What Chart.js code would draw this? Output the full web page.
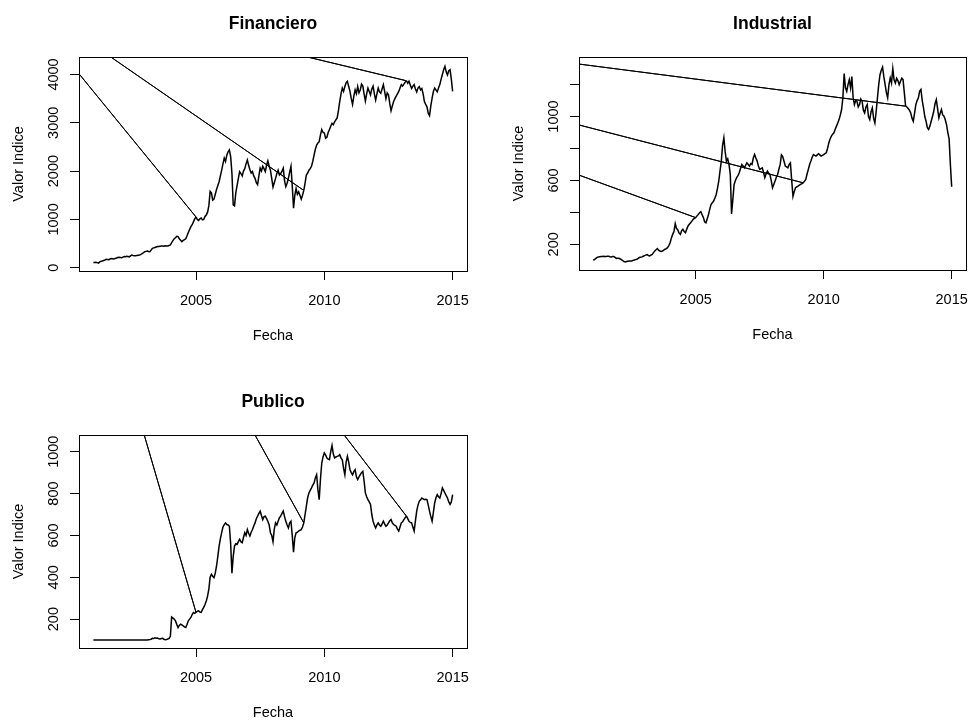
<!DOCTYPE html>
<html>
<head>
<meta charset="utf-8">
<script src="https://cdn.jsdelivr.net/npm/chart.js@4"></script>
<style>
  html, body { margin: 0; padding: 0; background: #fff; width: 969px; height: 720px; overflow: hidden; }
  canvas { position: absolute; }
</style>
</head>
<body>
<canvas id="fin" width="485" height="360" style="left:0;top:0"></canvas>
<canvas id="ind" width="484" height="360" style="left:500px;top:0"></canvas>
<canvas id="pub" width="485" height="360" style="left:0;top:378px"></canvas>
<script>
// fechas: una cada 0.05 anios, 2001.00 .. 2015.00
const anios = [2001, 2002, 2003, 2004, 2005, 2006, 2007, 2008, 2009, 2010, 2011, 2012, 2013, 2014];
const pasos = [0, 0.05, 0.1, 0.15, 0.2, 0.25, 0.3, 0.35, 0.4, 0.45,
               0.5, 0.55, 0.6, 0.65, 0.7, 0.75, 0.8, 0.85, 0.9, 0.95];
const fechas = anios.flatMap(a => pasos.map(p => Math.round((a + p) * 100) / 100)).concat([2015]);

// puntos donde la serie salta al registro erroneo y vuelve
const cortes = [2005, 2009.2, 2013.2];

const financiero = [
  110, 108, 112, 105, 95, 120, 135, 140, 150, 160, 175, 170, 165, 180, 190, 185, 180, 192, 200, 210,
  215, 210, 205, 220, 230, 228, 235, 232, 225, 245, 262, 255, 250, 248, 255, 260, 265, 275, 290, 310,
  330, 338, 345, 335, 330, 365, 400, 410, 420, 430, 440, 438, 445, 448, 450, 445, 455, 452, 450, 460,
  470, 520, 560, 600, 620, 650, 645, 600, 570, 540, 565, 580, 600, 660, 730, 790, 850, 890, 950, 1010,
  1050, 1000, 980, 1010, 1030, 990, 1000, 1060, 1090, 1150, 1280, 1580, 1550, 1400, 1420, 1520, 1620, 1700, 1780, 1900,
  2020, 2150, 2270, 2200, 2330, 2400, 2440, 2300, 1950, 1300, 1280, 1550, 1700, 1850, 1990, 1950, 1900, 2000, 2050, 2150,
  2230, 2120, 2030, 1960, 1990, 1900, 1850, 1760, 1720, 1900, 2060, 2000, 2100, 2050, 1990, 2120, 2210, 2100, 2020, 1850,
  1670, 1760, 1850, 1950, 2020, 1920, 1950, 2000, 2060, 1800, 1680, 1750, 1850, 1980, 2100, 1700, 1230, 1500, 1640, 1520,
  1570, 1500, 1420, 1500, 1600, 1750, 1920, 1960, 2020, 2050, 2100, 2200, 2330, 2450, 2540, 2580, 2610, 2750, 2860, 2800,
  2790, 2680, 2700, 2800, 2860, 2930, 2990, 2960, 3020, 3060, 3100, 3250, 3440, 3600, 3720, 3650, 3750, 3830, 3860, 3750,
  3650, 3500, 3380, 3550, 3680, 3600, 3750, 3620, 3680, 3800, 3760, 3600, 3450, 3600, 3720, 3650, 3580, 3700, 3760, 3600,
  3470, 3600, 3720, 3640, 3610, 3700, 3790, 3650, 3500, 3620, 3580, 3400, 3250, 3350, 3440, 3500, 3550, 3600, 3650, 3720,
  3790, 3760, 3800, 3840, 3870, 3820, 3860, 3780, 3710, 3760, 3790, 3700, 3640, 3720, 3750, 3680, 3710, 3600, 3440, 3380,
  3330, 3200, 3150, 3350, 3510, 3650, 3720, 3680, 3640, 3720, 3790, 3900, 4000, 4100, 4170, 4050, 3990, 4080, 4100, 3900,
  3650
];
const industrial = [
  100, 105, 112, 118, 121, 122, 123, 124, 125, 124, 123, 125, 125, 122, 121, 123, 123, 118, 112, 113,
  112, 108, 104, 97, 92, 90, 92, 94, 96, 95, 96, 99, 102, 104, 106, 112, 117, 119, 121, 125,
  129, 132, 135, 130, 127, 132, 137, 148, 158, 166, 173, 163, 158, 155, 158, 163, 169, 173, 179, 192,
  210, 240, 262, 280, 330, 300, 290, 270, 262, 285, 294, 280, 273, 295, 315, 325, 335, 345, 356, 362,
  367, 378, 387, 398, 404, 385, 367, 340, 335, 360, 387, 420, 450, 460, 471, 490, 512, 550, 596, 660,
  721, 820, 867, 780, 721, 735, 700, 640, 390, 480, 575, 600, 617, 630, 648, 675, 700, 690, 679, 695,
  710, 700, 690, 705, 700, 740, 762, 740, 721, 690, 669, 674, 679, 650, 617, 640, 658, 645, 637, 600,
  554, 575, 596, 620, 637, 670, 700, 760, 750, 720, 690, 685, 679, 700, 710, 600, 500, 530, 554, 560,
  565, 570, 575, 580, 585, 595, 606, 640, 669, 700, 721, 745, 762, 757, 752, 760, 767, 760, 752, 757,
  762, 768, 773, 800, 835, 860, 877, 890, 898, 920, 940, 960, 981, 1010, 1044, 1120, 1270, 1180, 1158, 1200,
  1231, 1180, 1250, 1120, 1075, 1100, 1096, 1060, 1075, 1110, 1096, 1040, 1023, 1060, 1075, 1000, 981, 1030, 1054, 990,
  960, 1030, 1117, 1200, 1262, 1290, 1310, 1250, 1200, 1150, 1117, 1200, 1242, 1210, 1300, 1230, 1210, 1240, 1225, 1200,
  1221, 1240, 1231, 1150, 1065, 1060, 1050, 1040, 1023, 990, 971, 1020, 1075, 1100, 1117, 1160, 1170, 1100, 1054, 1000,
  971, 930, 919, 940, 971, 1000, 1033, 1080, 1106, 1050, 992, 1020, 1044, 1010, 1002, 980, 950, 900, 860, 700,
  560
];
const publico = [
  100, 100, 100, 100, 100, 100, 100, 100, 100, 100, 100, 100, 100, 100, 100, 100, 100, 100, 100, 100,
  100, 100, 100, 100, 100, 100, 100, 100, 100, 100, 100, 100, 100, 100, 100, 100, 100, 100, 100, 100,
  100, 100, 100, 101, 102, 104, 108, 107, 111, 109, 110, 106, 105, 107, 108, 104, 102, 103, 105, 108,
  117, 210, 205, 200, 192, 175, 160, 170, 176, 172, 168, 163, 160, 175, 192, 200, 208, 222, 232, 228,
  232, 238, 240, 234, 232, 245, 256, 270, 287, 310, 343, 400, 414, 405, 398, 420, 454, 500, 549, 585,
  613, 640, 652, 660, 652, 650, 644, 560, 420, 500, 549, 560, 557, 570, 581, 570, 565, 590, 613, 600,
  628, 610, 597, 615, 628, 645, 660, 680, 692, 705, 716, 695, 676, 690, 692, 680, 668, 650, 613, 600,
  570, 630, 660, 650, 668, 685, 692, 705, 716, 690, 668, 650, 636, 660, 668, 600, 520, 590, 613, 615,
  621, 625, 628, 640, 660, 700, 740, 780, 803, 815, 827, 840, 851, 875, 890, 820, 771, 870, 946, 975,
  994, 985, 970, 965, 962, 1000, 1030, 990, 970, 975, 978, 980, 986, 970, 962, 920, 890, 950, 978, 950,
  914, 900, 890, 905, 914, 880, 867, 880, 890, 900, 906, 860, 803, 785, 771, 760, 748, 700, 668, 650,
  636, 650, 660, 650, 644, 655, 668, 655, 644, 650, 660, 670, 676, 660, 652, 648, 644, 630, 621, 640,
  660, 665, 676, 685, 692, 680, 668, 662, 660, 640, 621, 670, 716, 745, 763, 770, 779, 775, 771, 773,
  771, 745, 716, 690, 668, 710, 755, 780, 795, 785, 779, 800, 827, 815, 803, 790, 779, 760, 748, 760,
  795
];

// registro erroneo de cada serie (fecha, valor), fuera del area visible
const finAtipico = [1997.6, 5860];
const indAtipico = [1982.0, 1710];
const pubAtipico = [1998.2, 3090];

const xTicks = [2005, 2010, 2015];
const finTicks = [0, 1000, 2000, 3000, 4000];
const finLabels = ['0', '1000', '2000', '3000', '4000'];
const indTicks = [200, 400, 600, 800, 1000, 1200];
const indLabels = ['200', '', '600', '', '1000', ''];
const pubTicks = [200, 400, 600, 800, 1000];
const pubLabels = ['200', '400', '600', '800', '1000'];

Chart.defaults.font.family = "'Liberation Sans', Arial, Helvetica, sans-serif";
Chart.defaults.font.size = 14.5;
Chart.defaults.color = '#000';

const marco = {
  id: 'marco',
  afterDatasetsDraw(chart) {
    const { ctx, chartArea: a } = chart;
    ctx.save();
    ctx.strokeStyle = '#000';
    ctx.lineWidth = 1;
    const l = Math.floor(a.left) + 0.5, t = Math.floor(a.top) + 0.5;
    ctx.strokeRect(l, t, Math.round(a.right) - Math.floor(a.left), Math.round(a.bottom) - Math.floor(a.top));
    ctx.restore();
  }
};

function serie(valores, atipico) {
  const puntos = [];
  fechas.forEach((f, i) => {
    puntos.push({ x: f, y: valores[i] });
    if (cortes.includes(f)) {
      puntos.push({ x: atipico[0], y: atipico[1] }, { x: f, y: valores[i] });
    }
  });
  return puntos;
}

function panel(id, titulo, valores, atipico, yMin, yMax, yTicks, yLabels, area) {
  const canvas = document.getElementById(id);
  const W = canvas.width, H = canvas.height;
  const puntos = serie(valores, atipico);
  // los saltos al registro erroneo se ven mas finos que la serie diaria
  const esSalto = c => puntos[c.p0DataIndex].x < 2000 || puntos[c.p1DataIndex].x < 2000;
  new Chart(canvas, {
    type: 'line',
    data: {
      datasets: [{
        data: puntos,
        borderColor: '#000',
        borderWidth: 1.5,
        pointRadius: 0,
        tension: 0,
        fill: false,
        segment: { borderWidth: c => esSalto(c) ? 1 : 1.5 }
      }]
    },
    options: {
      responsive: false,
      animation: false,
      events: [],
      layout: { padding: { left: 0, top: 0, bottom: 0, right: W - area.right } },
      plugins: { legend: { display: false }, tooltip: { enabled: false } },
      scales: {
        x: {
          type: 'linear', position: 'bottom', bounds: 'data',
          min: 2000.44, max: 2015.56,
          afterBuildTicks: s => { s.ticks = xTicks.map(v => ({ value: v })); },
          afterFit: s => { s.height = H - area.bottom; },
          ticks: { callback: v => String(v), padding: 12.5, autoSkip: false, maxRotation: 0 },
          grid: { drawOnChartArea: false, tickLength: 9, color: '#000' },
          border: { display: false },
          title: { display: true, text: 'Fecha', padding: { top: 0, bottom: H - area.bottom - 65 - 8.7 } }
        },
        x2: {
          type: 'linear', axis: 'x', position: 'top', min: 0, max: 1,
          afterFit: s => { s.height = area.top; },
          ticks: { display: false },
          grid: { display: false },
          border: { display: false },
          title: {
            display: true, text: titulo,
            font: { size: 17.5, weight: 'bold' },
            padding: { top: 13.5, bottom: 0 }
          }
        },
        y: {
          type: 'linear', position: 'left', bounds: 'data',
          min: yMin, max: yMax,
          afterBuildTicks: s => { s.ticks = yTicks.map(v => ({ value: v })); },
          afterFit: s => { s.width = area.left; },
          ticks: {
            callback: (v, i) => yLabels[i],
            minRotation: 90, maxRotation: 90,
            crossAlign: 'center', padding: 0, autoSkip: false
          },
          grid: { drawOnChartArea: false, tickLength: 9, color: '#000' },
          border: { display: false },
          title: { display: true, text: 'Valor Indice', padding: { top: 10.3, bottom: 0 } }
        }
      }
    },
    plugins: [marco]
  });
}

panel('fin', 'Financiero', financiero, finAtipico, -68, 4362, finTicks, finLabels,
  { left: 79, right: 467, top: 57, bottom: 271 });
panel('ind', 'Industrial', industrial, indAtipico, 39, 1373, indTicks, indLabels,
  { left: 79, right: 466, top: 57, bottom: 270 });
panel('pub', 'Publico', publico, pubAtipico, 62, 1080, pubTicks, pubLabels,
  { left: 79, right: 467, top: 57, bottom: 270 });
</script>
</body>
</html>
